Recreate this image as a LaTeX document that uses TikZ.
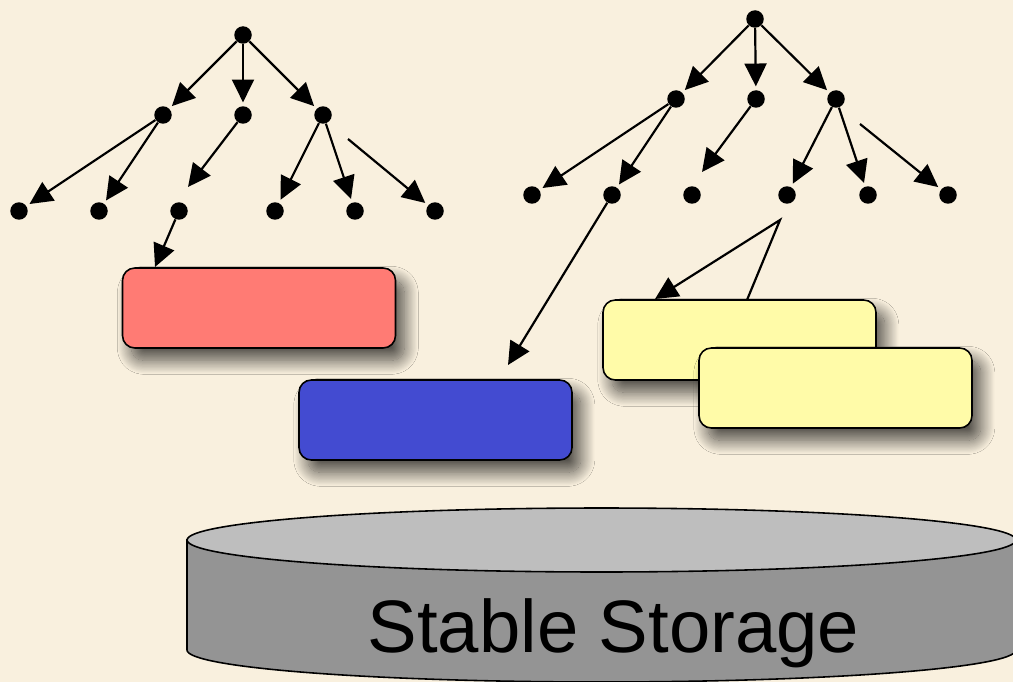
\documentclass[tikz,border=0pt]{standalone}
\usepackage{fontspec}
\setmainfont{Liberation Sans}
\usetikzlibrary{arrows.meta,shadows.blur}
\definecolor{parchment}{RGB}{249,240,222}
\definecolor{boxred}{RGB}{255,123,116}
\definecolor{boxblue}{RGB}{67,75,209}
\definecolor{boxyellow}{RGB}{255,251,168}
\definecolor{disktop}{RGB}{190,190,190}
\definecolor{diskside}{RGB}{148,148,148}

\begin{document}
\begin{tikzpicture}[x=0.02cm,y=-0.02cm,
  dot/.style={circle,fill=black,inner sep=0pt,minimum size=0.35cm},
  arr/.style={line width=1.25pt,-{Triangle[length=13pt,width=12.5pt]},shorten >=2pt},
  free/.style={shorten >=0pt},
  card/.style={draw=black,line width=0.9pt,rounded corners=7pt,
    minimum width=5.46cm,minimum height=1.6cm,inner sep=0pt,
    blur shadow={shadow xshift=5pt,shadow yshift=-7pt,
      shadow blur radius=8pt,shadow blur steps=25,shadow opacity=70}},
  disk/.style={draw=black,line width=0.9pt}]

\useasboundingbox (0,0) rectangle (1013,682);
\clip (0,0) rectangle (1013,682);
\fill[parchment] (0,0) rectangle (1013,682);

% stable storage cylinder
\path[disk,fill=diskside] (187,540) -- (187,650)
  arc[start angle=180,end angle=360,x radius=8.29cm,y radius=0.64cm]
  -- (1016,540) -- cycle;
\draw[disk,fill=disktop] (601.5,540) ellipse [x radius=8.29cm,y radius=0.64cm];
\node[font=\fontsize{42.3}{50}\selectfont,anchor=base,inner sep=0pt] (label)
  at (613.5,652) {Stable Storage};

% pages
\node[card,fill=boxred] (red) at (259,308) {};
\node[card,fill=boxblue] (blue) at (435.5,420) {};
\node[card,fill=boxyellow] (yellowA) at (739.5,340) {};
\node[card,fill=boxyellow] (yellowB) at (835.5,388) {};

% left tree
\node[dot] (A) at (243,35) {};
\node[dot] (A1) at (163,115) {};
\node[dot] (A2) at (243,115) {};
\node[dot] (A3) at (323,115) {};
\node[dot] (A11) at (19,211) {};
\node[dot] (A12) at (99,211) {};
\node[dot] (A21) at (179,211) {};
\node[dot] (A31) at (275,211) {};
\node[dot] (A32) at (355,211) {};
\node[dot] (A33) at (435,211) {};
\coordinate (A2end) at (188,187);
\coordinate (A3start) at (348,139);
\coordinate (redin) at (155,267);

\draw[arr] (A) -- (A1);
\draw[arr] (A) -- (A2);
\draw[arr] (A) -- (A3);
\draw[arr] (A1) -- (A11);
\draw[arr] (A1) -- (A12);
\draw[arr,free] (A2) -- (A2end);
\draw[arr] (A3) -- (A31);
\draw[arr] (A3) -- (A32);
\draw[arr] (A3start) -- (A33);
\draw[arr,free] (A21) -- (redin);

% right tree
\node[dot] (B) at (755,19) {};
\node[dot] (B1) at (676,99) {};
\node[dot] (B2) at (756,99) {};
\node[dot] (B3) at (836,99) {};
\node[dot] (B11) at (532,195) {};
\node[dot] (B12) at (612,195) {};
\node[dot] (B21) at (692,195) {};
\node[dot] (B31) at (787,195) {};
\node[dot] (B32) at (868,195) {};
\node[dot] (B33) at (948,195) {};
\coordinate (B2end) at (702,172);
\coordinate (B3start) at (860,124);
\coordinate (bluein) at (508,365);
\coordinate (apex) at (780,220);
\coordinate (yin) at (655,299);
\coordinate (yout) at (747,300);

\draw[arr] (B) -- (B1);
\draw[arr] (B) -- (B2);
\draw[arr] (B) -- (B3);
\draw[arr] (B1) -- (B11);
\draw[arr] (B1) -- (B12);
\draw[arr,free] (B2) -- (B2end);
\draw[arr] (B3) -- (B31);
\draw[arr] (B3) -- (B32);
\draw[arr] (B3start) -- (B33);
\draw[arr,free] (B12) -- (bluein);
\draw[arr,free] (yout) -- (apex) -- (yin);

\end{tikzpicture}
\end{document}
